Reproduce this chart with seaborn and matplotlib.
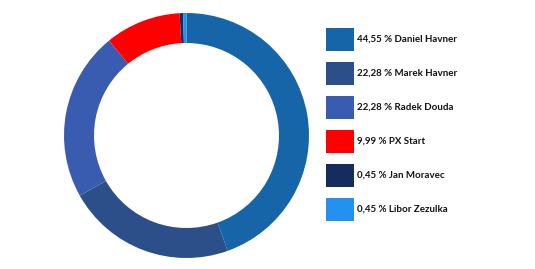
import matplotlib
matplotlib.use("Agg")
import matplotlib.pyplot as plt
import seaborn as sns
from matplotlib.patches import Rectangle

names = ["Daniel Havner", "Marek Havner", "Radek Douda", "PX Start", "Jan Moravec", "Libor Zezulka"]
shares = [44.55, 22.28, 22.28, 9.99, 0.45, 0.45]
labels = ["44,55 % Daniel Havner", "22,28 % Marek Havner", "22,28 % Radek Douda",
          "9,99 % PX Start", "0,45 % Jan Moravec", "0,45 % Libor Zezulka"]
colors = ["#1665a9", "#2c4f8a", "#3a5cb0", "#ff0000", "#152c5e", "#2490f0"]

sns.set_theme(style="white")
plt.rcParams['font.family'] = ['Lato', 'DejaVu Sans']

W, H = 535, 269
fig = plt.figure(figsize=(W / 100, H / 100), dpi=100)
fig.patch.set_facecolor("white")

cx, cy, r = 186.5, 135.5, 122.5
ax = fig.add_axes([(cx - r) / W, (H - cy - r) / H, 2 * r / W, 2 * r / H])
ax.pie(shares, colors=colors, startangle=90, counterclock=False,
       wedgeprops=dict(width=0.245, linewidth=0), radius=1)
ax.set_xlim(-1, 1)
ax.set_ylim(-1, 1)
ax.set_aspect("equal")
ax.axis("off")

# legend
x0, bw, bh = 326, 28, 23
y_first, step = 39.5, 34
for i, (lab, col) in enumerate(zip(labels, colors)):
    yc = y_first + i * step
    fig.patches.append(Rectangle(((x0) / W, (H - yc - bh / 2) / H), bw / W, bh / H,
                                 transform=fig.transFigure, facecolor=col, edgecolor="none"))
    fig.text((x0 + bw + 3) / W, (H - yc) / H, lab, ha="left", va="center",
             fontsize=7, fontweight="bold", color="#111111")

fig.savefig("out.png", dpi=100, facecolor="white")
